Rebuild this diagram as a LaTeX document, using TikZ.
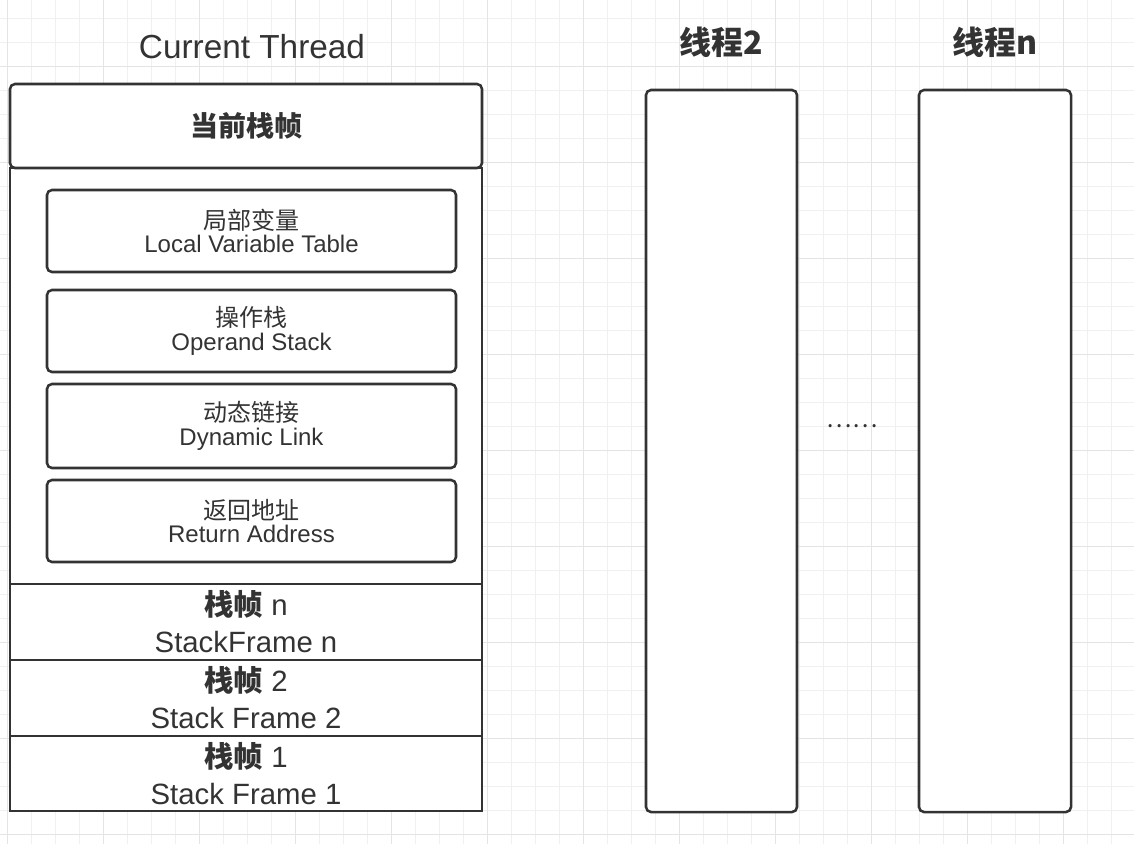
\documentclass[tikz,border=0pt]{standalone}
\usepackage{fontspec}
\setmainfont{Liberation Sans}
\newfontfamily\cjk{Noto Sans CJK SC}
\definecolor{ink}{HTML}{333333}
\definecolor{gridlight}{HTML}{F0F0F0}
\definecolor{griddark}{HTML}{E4E4E4}
\tikzset{
  gl/.style={gridlight, line width=0.75pt},
  gd/.style={griddark, line width=0.75pt},
  box/.style={draw=ink, line width=1.9pt, fill=white, inner sep=0pt, text=ink, align=center},
  rbox/.style={box, rounded corners=3.75pt},
  inner/.style={rbox, minimum width=409*0.75pt, font=\fontsize{18pt}{17.5pt}\selectfont},
  frame/.style={box, minimum width=472*0.75pt, font=\fontsize{22pt}{27.75pt}\selectfont},
  ttl/.style={text=ink, inner sep=0pt}
}
\begin{document}
\begin{tikzpicture}[x=0.75pt,y=-0.75pt]
\useasboundingbox (0,0) rectangle (1134,844);
\fill[white] (0,0) rectangle (1134,844);
% grid
\foreach \i in {0,...,47} \draw[gl] ({7+24*\i},0) -- ({7+24*\i},844);
\foreach \j in {0,...,35} \draw[gl] (0,{18.7+24*\j}) -- (1134,{18.7+24*\j});
\foreach \i in {0,...,11} \draw[gd] ({7+96*\i},0) -- ({7+96*\i},844);
\foreach \j in {0,...,8} \draw[gd] (0,{66.7+96*\j}) -- (1134,{66.7+96*\j});
% titles
\node[ttl, font=\fontsize{25pt}{25pt}\selectfont] (tcur) at (252,47) {Current Thread};
\node[ttl, font=\fontsize{24pt}{24pt}\selectfont\cjk\bfseries] (tt2) at (721,42) {线程2};
\node[ttl, font=\fontsize{24pt}{24pt}\selectfont\cjk\bfseries] (ttn) at (995,42) {线程n};
% current thread
\node[box, minimum width=472*0.75pt, minimum height=416*0.75pt] (body) at (246,376) {};
\node[rbox, minimum width=472*0.75pt, minimum height=84*0.75pt, font=\fontsize{21pt}{21pt}\selectfont\cjk\bfseries] (hdr) at (246,126) {当前栈帧};
\node[inner, minimum height=82*0.75pt] (lvt) at (251.5,231) {{\cjk 局部变量}\\Local Variable Table};
\node[inner, minimum height=82*0.75pt] (ops) at (251.5,331) {{\cjk 操作栈}\\Operand Stack};
\node[inner, minimum height=84*0.75pt] (dyn) at (251.5,426) {{\cjk 动态链接}\\Dynamic Link};
\node[inner, minimum height=82*0.75pt] (ret) at (251.5,521) {{\cjk 返回地址}\\Return Address};
\node[frame, minimum height=76*0.75pt] (sfn) at (246,622) {{\cjk\bfseries 栈帧} n\\StackFrame n};
\node[frame, minimum height=76*0.75pt] (sf2) at (246,698) {{\cjk\bfseries 栈帧} 2\\Stack Frame 2};
\node[frame, minimum height=75*0.75pt] (sf1) at (246,773.5) {{\cjk\bfseries 栈帧} 1\\Stack Frame 1};
% other threads
\node[rbox, minimum width=151*0.75pt, minimum height=722*0.75pt] (th2) at (721.5,451) {};
\node[rbox, minimum width=152*0.75pt, minimum height=722*0.75pt] (thn) at (995,451) {};
\node[ttl, font=\fontsize{18pt}{18pt}\selectfont\cjk] (dots) at (852,426) {……};
\end{tikzpicture}
\end{document}
